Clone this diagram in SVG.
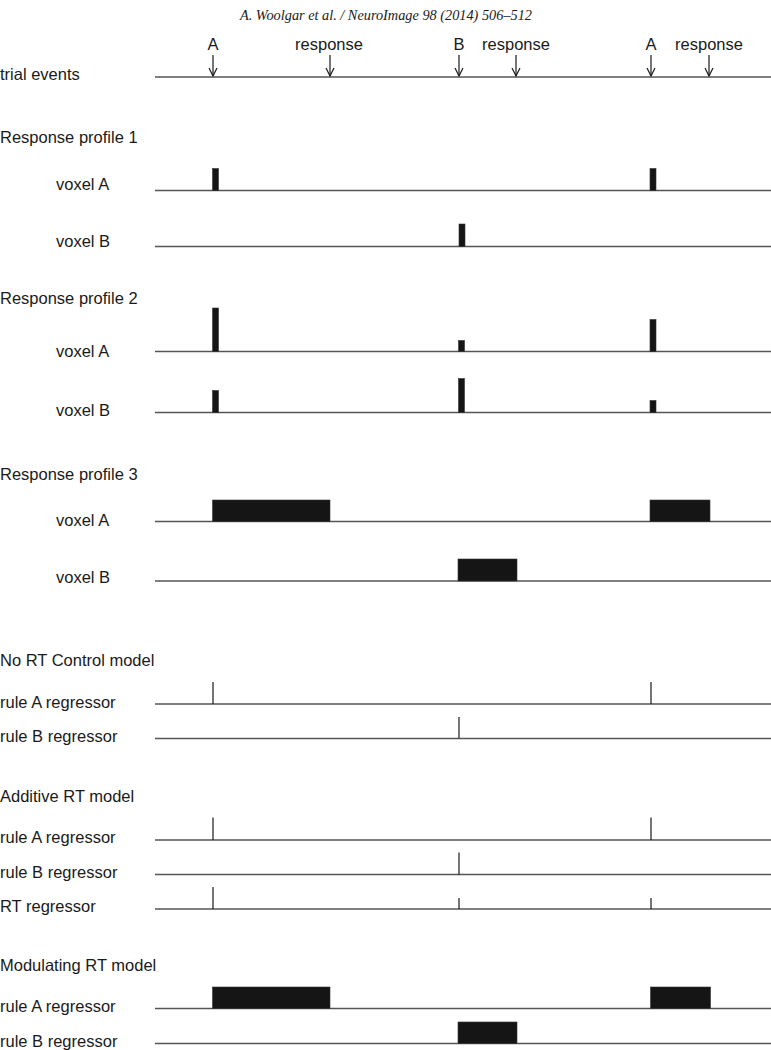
<svg xmlns="http://www.w3.org/2000/svg" width="771" height="1050" viewBox="0 0 771 1050">
<style>
text{font-family:"Liberation Sans",Arial,sans-serif;font-size:16.5px;fill:#1a1a1a}
.hdr{font-family:"Liberation Serif","Times New Roman",serif;font-style:italic;font-size:14.3px;text-anchor:middle}
.mid{text-anchor:middle}
.base{stroke:#555;stroke-width:1.6;fill:none}
.bar{fill:#151515;stroke:#333;stroke-width:0.6}
.tick{stroke:#1a1a1a;stroke-width:1.2;fill:none}
.arr{stroke:#1a1a1a;stroke-width:1.2;fill:none;marker-end:url(#ah)}
</style>
<defs>
<marker id="ah" markerWidth="10" markerHeight="10" refX="9" refY="5" orient="auto" markerUnits="userSpaceOnUse" viewBox="0 0 10 10">
<path d="M1,1 L9,5 L1,9" fill="none" stroke="#1a1a1a" stroke-width="1.2"/>
</marker>
</defs>
<rect width="771" height="1050" fill="#fff"/>
<text class="hdr" x="386" y="20">A. Woolgar et al. / NeuroImage 98 (2014) 506–512</text>

<g id="trial-events">
<text x="0" y="80">trial events</text>
<line class="base" x1="155" y1="77" x2="771" y2="77"/>
<text class="mid" x="213" y="50">A</text>
<text class="mid" x="329" y="50">response</text>
<text class="mid" x="459" y="50">B</text>
<text class="mid" x="516" y="50">response</text>
<text class="mid" x="651" y="50">A</text>
<text class="mid" x="709" y="50">response</text>
</g>
<g id="connectors">
<line class="arr" x1="213" y1="55" x2="213" y2="76"/>
<line class="arr" x1="330" y1="55" x2="330" y2="76"/>
<line class="arr" x1="459" y1="55" x2="459" y2="76"/>
<line class="arr" x1="516" y1="55" x2="516" y2="76"/>
<line class="arr" x1="651" y1="55" x2="651" y2="76"/>
<line class="arr" x1="709" y1="55" x2="709" y2="76"/>
</g>

<g id="profile1">
<text x="0" y="143">Response profile 1</text>
<g id="p1-voxelA">
<text x="56" y="190">voxel A</text>
<line class="base" x1="155" y1="190.5" x2="771" y2="190.5"/>
<rect class="bar" x="212.5" y="168.5" width="6" height="22"/>
<rect class="bar" x="650" y="168.5" width="6" height="22"/>
</g>
<g id="p1-voxelB">
<text x="56" y="247">voxel B</text>
<line class="base" x1="155" y1="246.5" x2="771" y2="246.5"/>
<rect class="bar" x="459" y="224" width="6" height="22.5"/>
</g>
</g>

<g id="profile2">
<text x="0" y="304">Response profile 2</text>
<g id="p2-voxelA">
<text x="56" y="357">voxel A</text>
<line class="base" x1="155" y1="351.5" x2="771" y2="351.5"/>
<rect class="bar" x="212.5" y="308" width="6" height="43.5"/>
<rect class="bar" x="458.5" y="340.5" width="6" height="11"/>
<rect class="bar" x="650" y="319.5" width="6" height="32"/>
</g>
<g id="p2-voxelB">
<text x="56" y="416">voxel B</text>
<line class="base" x1="155" y1="412.5" x2="771" y2="412.5"/>
<rect class="bar" x="212.5" y="390.5" width="6" height="22"/>
<rect class="bar" x="458.5" y="378.5" width="6" height="34"/>
<rect class="bar" x="650" y="400.5" width="6" height="12"/>
</g>
</g>

<g id="profile3">
<text x="0" y="480">Response profile 3</text>
<g id="p3-voxelA">
<text x="56" y="526">voxel A</text>
<line class="base" x1="155" y1="521.5" x2="771" y2="521.5"/>
<rect class="bar" x="212.5" y="500" width="117.5" height="21.5"/>
<rect class="bar" x="650" y="500" width="60" height="21.5"/>
</g>
<g id="p3-voxelB">
<text x="56" y="583">voxel B</text>
<line class="base" x1="155" y1="581" x2="771" y2="581"/>
<rect class="bar" x="458" y="559" width="59" height="22"/>
</g>
</g>

<g id="no-rt-control">
<text x="0" y="666">No RT Control model</text>
<g id="nrc-ruleA">
<text x="0" y="708">rule A regressor</text>
<line class="base" x1="155" y1="704" x2="771" y2="704"/>
<line class="tick" x1="213" y1="682" x2="213" y2="704"/>
<line class="tick" x1="651" y1="682" x2="651" y2="704"/>
</g>
<g id="nrc-ruleB">
<text x="0" y="742">rule B regressor</text>
<line class="base" x1="155" y1="738.5" x2="771" y2="738.5"/>
<line class="tick" x1="459" y1="717" x2="459" y2="738"/>
</g>
</g>

<g id="additive-rt">
<text x="0" y="802">Additive RT model</text>
<g id="add-ruleA">
<text x="0" y="843">rule A regressor</text>
<line class="base" x1="155" y1="840" x2="771" y2="840"/>
<line class="tick" x1="213" y1="817.5" x2="213" y2="840"/>
<line class="tick" x1="651" y1="817.5" x2="651" y2="840"/>
</g>
<g id="add-ruleB">
<text x="0" y="878">rule B regressor</text>
<line class="base" x1="155" y1="874.5" x2="771" y2="874.5"/>
<line class="tick" x1="459" y1="852.5" x2="459" y2="874.5"/>
</g>
<g id="add-RT">
<text x="0" y="912">RT regressor</text>
<line class="base" x1="155" y1="909" x2="771" y2="909"/>
<line class="tick" x1="213" y1="887" x2="213" y2="909"/>
<line class="tick" x1="459" y1="898" x2="459" y2="909"/>
<line class="tick" x1="651" y1="898" x2="651" y2="909"/>
</g>
</g>

<g id="modulating-rt">
<text x="0" y="971">Modulating RT model</text>
<g id="mod-ruleA">
<text x="0" y="1012">rule A regressor</text>
<line class="base" x1="155" y1="1008.5" x2="771" y2="1008.5"/>
<rect class="bar" x="212.5" y="987" width="117.5" height="21.5"/>
<rect class="bar" x="650.5" y="987" width="60" height="21.5"/>
</g>
<g id="mod-ruleB">
<text x="0" y="1047">rule B regressor</text>
<line class="base" x1="155" y1="1043.5" x2="771" y2="1043.5"/>
<rect class="bar" x="458" y="1022" width="59" height="21.5"/>
</g>
</g>
</svg>
